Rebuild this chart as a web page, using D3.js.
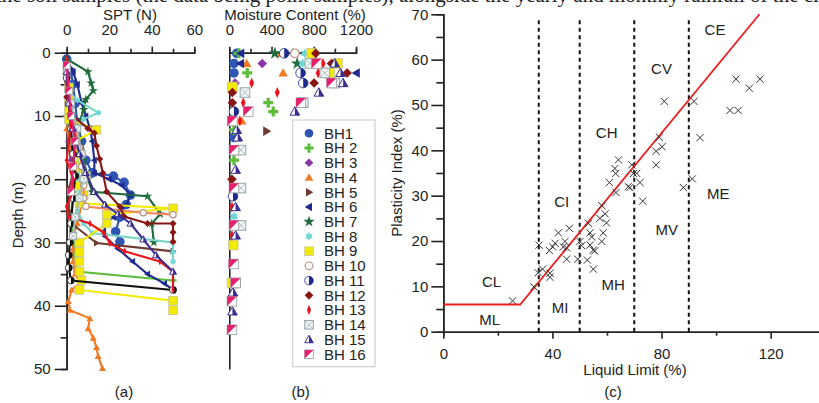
<!DOCTYPE html>
<html>
<head>
<meta charset="utf-8">
<title>SPT, moisture content and plasticity chart</title>
<style>
  body { margin: 0; background: #fff; }
  svg { display: block; font-family: 'Liberation Sans', Arial, sans-serif; }
  .axis path, .axis line { stroke: #222; stroke-width: 1.6; }
  .axis text { font-size: 15px; fill: #222; font-family: 'Liberation Sans', Arial, sans-serif; }
  .lab { font-size: 15px; fill: #222; }
</style>
</head>
<body>
<script src="https://d3js.org/d3.v7.min.js"></script>
<script>
// ---------- data ----------
var boreholes = ["BH1","BH 2","BH 3","BH 4","BH 5","BH 6","BH 7","BH 8",
                 "BH 9","BH 10","BH 11","BH 12","BH 13","BH 14","BH 15","BH 16"];

// SPT profiles: [N, depth m]
var sptBH1  = [[0,1],[2,3],[3,5],[4,8],[5,11],[7,14],[9,17],[12,19],[22,19.5],[27,20.5],[30,22.5],[28,24],[25,26],[23,28.3],[25,29.9]];
var sptBH2  = [[0,10],[1,14],[2,18],[3,22],[2,26],[3,29],[4,32],[4.7,34.6],[50,36]];
var sptBH3  = [[0,2],[1,5],[1,8],[2,11],[1,14],[2,17]];
var sptBH4  = [[0,12],[2,15],[4,18],[6,21],[7,24],[5,27],[3,29],[3,31],[3,33],[4,35],[6.2,36.4],[2.3,37.5],[0.8,39.3],[1.5,40.7],[10.9,42],[10.1,43.6],[12.5,45.1],[14,46.6],[14.8,48],[16.8,49.9]];
var sptBH5  = [[0,5],[1,10],[2,14],[4,18],[1,21.5],[1,25],[2.3,27],[14,30.1],[50,31.4]];
var sptBH6  = [[0,1],[3,3],[5,5],[7,8],[9,10],[11,12],[12,14],[13,17],[13,19],[20,20],[26,21],[30,22.5],[28,24],[22,26],[18,27],[18,29],[24,31],[31,33],[38,35],[46,36.5],[50,37.5]];
var sptBH7  = [[0,1],[10,3],[11.5,4.8],[12.5,6],[9,7.4],[8,9],[6,11],[6,14],[8,17],[10,20],[12,22],[38,22.7],[44,25.5],[40,27],[41,30]];
var sptBH8  = [[0,6],[5,7.5],[15,9.5],[8,10.5],[4,12],[5,15],[6,20],[5,25],[8,27],[12,28.5],[50,30],[50,31.5],[50,33]];
var sptBH9  = [[1,5.5],[1,7.5],[1,9],[1,10.5],[14,12.2],[4,14],[6,16],[4,18],[9,19.5],[5,21],[8,22.5],[6.2,23.8],[50,24.6],[18.8,25.6],[18.8,27],[6,30],[6,31.5],[6,33],[6,34.6],[7,36],[6,37.5],[50,39.2],[50,40.7]];
var sptBH10 = [[0,3],[2,8],[4,12],[6,15],[7,18],[8,21],[8,23],[9,24.3],[36,25.3],[50,25.6]];
var sptBH11 = [[0,4],[1,8],[2,12],[3,16],[4,19.5],[3,23],[2,27],[1.5,30],[1,32],[1,34],[2,36],[50,37.5]];
var sptBH12 = [[0,7],[3,10],[10,12],[13,12.7],[14,14.7],[15.5,16.8],[17,19],[18.8,22],[25,24.3],[27,25.9],[38,27],[50,27],[50,28.4],[50,29.9]];
var sptBH13 = [[0,1],[0,3],[0,5],[1,8],[2,11],[1,14],[0,17],[3,20],[3,22],[0,24.3],[0.8,25.9],[10.9,27],[17.2,28.4],[20.3,30.1],[27.3,31.4],[43.8,33],[50,34.6],[50,37.5]];
var sptBH14 = [[0,3],[2,8],[5,12],[7,16],[8,20],[6,23],[4,26],[3,29]];
var sptBH15 = [[0,3],[1,8],[3,12],[6,16],[9,19],[13,22],[18,24],[24,25.5],[30,27],[36,29.5],[42,32],[50,34.6]];
var sptBH16 = [[0,2],[1,6],[2,10],[4,14],[3,18],[2,22]];

// moisture content: [MC %, depth m]
var mcBH1  = [[70,0.1],[44,1.7],[44,3.2],[44,13.4]];
var mcBH2  = [[90,0.1],[170,3.2],[369,7.9],[416,9.3],[44,12.2],[44,17]];
var mcBH3  = [[312,1.7],[54,4.8]];
var mcBH4  = [[495,0.1],[164,1.7],[510,3.2],[117,10.8]];
var mcBH5  = [[353,12.4]];
var mcBH6  = [[110,0.1],[108,1.7],[1204,3.2]];
var mcBH7  = [[432,0.1],[643,1.7]];
var mcBH8  = [[715,0.1],[694,1.7],[44,25.9]];
var mcBH9  = [[779,0.1],[1024,1.7],[952,3.2],[29,5.4],[38,30.4],[25,36.4]];
var mcBH10 = [[621,0.1]];
var mcBH11 = [[520,0.1],[675,3.2],[700,4.8],[44,9.3],[35,22.7]];
var mcBH12 = [[819,0.1],[968,1.7],[1116,3.2],[803,4.8],[29,6.3],[29,7.9],[25,20]];
var mcBH13 = [[888,1.7],[841,3.2],[212,4.8],[454,6.3],[132,7.9],[100,10.8],[25,24.4],[25,28.9]];
var mcBH14 = [[763,1.7],[905,3.2],[1000,4.8],[148,6.3],[700,7.9],[110,15.4],[110,21.4],[110,27.3],[60,36.4]];
var mcBH15 = [[999,1.7],[1053,3.2],[1078,4.8],[848,6.3],[621,9.3],[70,12.2],[80,13.4],[60,18.5],[60,24.4],[60,28.9],[35,37.9],[30,40.9]];
var mcBH16 = [[826,1.7],[968,4.8],[678,7.9],[180,9.3],[29,10.8],[44,15.4],[44,21.4],[44,27.3],[40,33.4],[60,36.4],[25,39.3],[25,43.8]];

// plasticity chart samples: [liquid limit, plasticity index]
var plasticity = [[107.3,55.7],[116.1,55.7],[112.2,53.7],[105.1,48.8],[108.1,48.8],[81,50.8],[91.9,50.8],[94.1,42.8],
  [79.2,42.9],[80.2,40.8],[78,39.8],[78,36.8],[91.3,33.7],[88,31.8],[69.1,36.8],[64.2,37.9],[62.9,36],[63.2,34.9],
  [60.9,32.9],[63.3,30.7],[68.4,31.8],[69.7,34.9],[70.9,34.9],[72.1,32.9],[73.1,28.8],[67.8,32],[25.4,6.8],[33.2,9.9],
  [35.1,19.1],[36.4,13.8],[38.9,17.9],[40.1,18.7],[39.1,12.9],[39.1,12],[42.2,21.8],[46.2,22.8],[44.6,19.9],[44,18.7],
  [45.2,18.5],[45.2,16],[49.3,16],[50.1,19.9],[50.7,19],[52.8,15.8],[55,13.8],[53.2,23.9],[53.8,21.8],[54.4,20.9],
  [55,18],[53.8,19.1],[57.4,25],[58.1,27.8],[59.3,26],[58.6,21.8],[58.1,19.9],[59.8,24],[55.5,17.8],[41,19.5],[34.8,13]];
var aLine = [[0,6],[28.2,6],[115.9,70]];
var llBoundaries = [35, 50, 70, 90];
var zoneNames = ["CL","ML","CI","MI","CH","MH","CV","MV","CE","ME"];
var zoneAt = [[17.7,11],[17,2.6],[43.4,28.7],[42.8,5.3],[59.9,43.9],[62.3,10.3],[80,57.9],[81.9,22.6],[99.6,66.7],[100.8,30.4]];

// ---------- styles ----------
var sptData = [sptBH1,sptBH2,sptBH3,sptBH4,sptBH5,sptBH6,sptBH7,sptBH8,sptBH9,sptBH10,sptBH11,sptBH12,sptBH13,sptBH14,sptBH15,sptBH16];
var mcData = [mcBH1,mcBH2,mcBH3,mcBH4,mcBH5,mcBH6,mcBH7,mcBH8,mcBH9,mcBH10,mcBH11,mcBH12,mcBH13,mcBH14,mcBH15,mcBH16];
var colors = ["#2f55b4","#5bbd3a","#8b34a6","#f07a22","#6e3b30","#1d2a8e","#1e6b3c","#6fd6d8",
              "#f4ea00","#b89484","#1d2a8e","#8a1515","#e8161c","#a9b9b9","#3a2d92","#e81e6e"];
var lineColors = ["#2f55b4","#5bbd3a","#8b34a6","#f07a22","#6e3b30","#1d2a8e","#1e6b3c","#79d6c4",
              "#f4ea00","#f4845f","#111111","#8a1515","#e8161c","#a9b9b9","#3a2d92","#e81e6e"];
var shapes = ["circle","plus","diamond","triUp","triRight","triLeft","star","star6",
              "square","open","halfCircle","diamond","thinDiamond","boxX","halfTri","halfSquare"];

var W = 819, H = 403;
var svg = d3.select("body").append("svg").attr("width", W).attr("height", H);

function poly(g, pts, fill, stroke, sw) {
  return g.append("path").attr("d", "M" + pts.map(function(p){ return p.join(","); }).join("L") + "Z")
    .attr("fill", fill).attr("stroke", stroke || "none").attr("stroke-width", sw || 0);
}

function marker(g, kind, col, s) {
  switch (kind) {
    case "circle": g.append("circle").attr("r", s).attr("fill", col); break;
    case "plus":
      g.append("path").attr("d", "M" + (-s) + ",0H" + s + "M0," + (-s) + "V" + s)
        .attr("stroke", col).attr("stroke-width", s * 0.65); break;
    case "diamond": poly(g, [[0,-s],[s,0],[0,s],[-s,0]], col); break;
    case "triUp": poly(g, [[0,-s],[s,s*0.75],[-s,s*0.75]], col); break;
    case "triRight": poly(g, [[s,0],[-s*0.7,-s],[-s*0.7,s]], col); break;
    case "triLeft": poly(g, [[-s,0],[s*0.7,-s],[s*0.7,s]], col); break;
    case "star": g.append("path").attr("d", d3.symbol(d3.symbolStar, s * s * 2.2)()).attr("fill", col); break;
    case "star6":
      poly(g, [[0,-s],[s*0.87,s*0.5],[-s*0.87,s*0.5]], col);
      poly(g, [[0,s],[s*0.87,-s*0.5],[-s*0.87,-s*0.5]], col); break;
    case "square": g.append("rect").attr("x", -s).attr("y", -s).attr("width", 2*s).attr("height", 2*s)
        .attr("fill", col).attr("stroke", "#c8c4a0").attr("stroke-width", 0.8); break;
    case "open": g.append("circle").attr("r", s*0.9).attr("fill", "#fff").attr("stroke", col).attr("stroke-width", 1.2); break;
    case "halfCircle":
      g.append("circle").attr("r", s).attr("fill", "#fff").attr("stroke", col).attr("stroke-width", 0.8);
      g.append("path").attr("d", "M0," + (-s) + "A" + s + "," + s + " 0 0 1 0," + s + "Z").attr("fill", col); break;
    case "thinDiamond": poly(g, [[0,-s*1.15],[s*0.5,0],[0,s*1.15],[-s*0.5,0]], col); break;
    case "boxX":
      g.append("rect").attr("x", -s).attr("y", -s).attr("width", 2*s).attr("height", 2*s)
        .attr("fill", "#f3f7f7").attr("stroke", "#97a6a6").attr("stroke-width", 1);
      g.append("path").attr("d", "M" + (-s) + "," + (-s) + "L" + s + "," + s + "M" + s + "," + (-s) + "L" + (-s) + "," + s)
        .attr("stroke", "#9fb0b0").attr("stroke-width", 0.8); break;
    case "halfTri":
      poly(g, [[0,-s],[s,s*0.75],[-s,s*0.75]], "#fff", col, 1);
      poly(g, [[0,-s],[s,s*0.75],[0,s*0.75]], col); break;
    case "halfSquare":
      g.append("rect").attr("x", -s).attr("y", -s).attr("width", 2*s).attr("height", 2*s)
        .attr("fill", "#fff").attr("stroke", "#999").attr("stroke-width", 0.8);
      poly(g, [[-s,-s],[s,-s],[-s,s]], col); break;
  }
}

// cropped body text of the page the figure was cut from (only its lower edge shows)
svg.append("text").attr("x", -4).attr("y", 1.5)
  .attr("font-family", "'Liberation Serif', 'DejaVu Serif', serif").attr("font-size", 21).attr("fill", "#222")
  .text("the soil samples (the data being point samples), alongside the yearly and monthly rainfall of the city were");

// ---------- (a) SPT ----------
var xSpt = d3.scaleLinear().domain([0, 60]).range([66.7, 194.3]);
var yDepth = d3.scaleLinear().domain([0, 50]).range([52.7, 369]);

var gA = svg.append("g");
gA.append("g").attr("class", "axis").attr("transform", "translate(0," + yDepth(0) + ")")
  .call(d3.axisTop(xSpt).tickValues([10, 30, 50]).tickSize(4).tickFormat(""));
gA.append("g").attr("class", "axis").attr("transform", "translate(0," + yDepth(0) + ")")
  .call(d3.axisTop(xSpt).tickValues([0, 20, 40, 60]).tickSize(6).tickSizeOuter(0).tickPadding(12));
gA.append("g").attr("class", "axis").attr("transform", "translate(" + xSpt(0) + ",0)")
  .call(d3.axisLeft(yDepth).tickValues([5, 15, 25, 35, 45]).tickSize(6).tickFormat(""));
gA.append("g").attr("class", "axis").attr("transform", "translate(" + xSpt(0) + ",0)")
  .call(d3.axisLeft(yDepth).tickValues([0, 10, 20, 30, 40, 50]).tickSize(12).tickSizeOuter(0).tickPadding(4));

var sptLine = d3.line().x(function(d){ return xSpt(d[0]); }).y(function(d){ return yDepth(d[1]); });
sptData.forEach(function(series, i) {
  var g = gA.append("g");
  g.append("path").attr("d", sptLine(series)).attr("fill", "none")
    .attr("stroke", lineColors[i]).attr("stroke-width", 2.1);
  series.forEach(function(p) {
    var m = g.append("g").attr("transform", "translate(" + xSpt(p[0]) + "," + yDepth(p[1]) + ")");
    var s = shapes[i] === "circle" ? 4.8 : (shapes[i] === "square" ? 4.3 : 3.5);
    marker(m, shapes[i], i === 10 ? "#111" : colors[i], s);
  });
});

svg.append("text").attr("class", "lab").attr("x", 130).attr("y", 20).attr("text-anchor", "middle").text("SPT (N)");
svg.append("text").attr("class", "lab").attr("transform", "translate(23,215) rotate(-90)")
  .attr("text-anchor", "middle").text("Depth (m)");
svg.append("text").attr("class", "lab").attr("x", 124).attr("y", 397).attr("text-anchor", "middle").text("(a)");

// ---------- (b) moisture content ----------
var xMc = d3.scaleLinear().domain([0, 1200]).range([229.3, 356]);
var gB = svg.append("g");
gB.append("g").attr("class", "axis").attr("transform", "translate(0," + yDepth(0) + ")")
  .call(d3.axisTop(xMc).tickValues([200, 600, 1000]).tickSize(4).tickFormat(""));
gB.append("g").attr("class", "axis").attr("transform", "translate(0," + yDepth(0) + ")")
  .call(d3.axisTop(xMc).tickValues([0, 400, 800, 1200]).tickFormat(d3.format("d"))
    .tickSize(6).tickSizeOuter(0).tickPadding(12));
gB.append("g").attr("class", "axis").attr("transform", "translate(" + xMc(0) + ",0)")
  .call(d3.axisLeft(yDepth).tickValues([]).tickSizeOuter(0));

mcData.forEach(function(series, i) {
  series.forEach(function(p) {
    var m = gB.append("g").attr("transform", "translate(" + xMc(p[0]) + "," + yDepth(p[1]) + ")");
    marker(m, shapes[i], colors[i], shapes[i] === "plus" ? 5 : 4.8);
  });
});

// legend
var leg = svg.append("g");
leg.append("rect").attr("x", 292.7).attr("y", 120).attr("width", 82.3).attr("height", 246.7)
  .attr("fill", "#fff").attr("stroke", "#cfcfcf").attr("stroke-width", 1.2);
boreholes.forEach(function(name, i) {
  var y = 133.3 + i * 14.73;
  var m = leg.append("g").attr("transform", "translate(309," + y + ")");
  marker(m, shapes[i], colors[i], shapes[i] === "plus" ? 4.6 : 4.3);
  leg.append("text").attr("class", "lab").attr("x", 324).attr("y", y + 5.3).text(name);
});

svg.append("text").attr("class", "lab").attr("x", 295).attr("y", 20).attr("text-anchor", "middle").text("Moisture Content (%)");
svg.append("text").attr("class", "lab").attr("x", 300.7).attr("y", 397).attr("text-anchor", "middle").text("(b)");

// ---------- (c) plasticity chart ----------
var xLL = d3.scaleLinear().domain([0, 140]).range([443.3, 825.2]);
var yPI = d3.scaleLinear().domain([0, 70]).range([331.7, 14.3]);
var gC = svg.append("g");

gC.append("g").attr("class", "axis").attr("transform", "translate(0," + yPI(0) + ")")
  .call(d3.axisBottom(xLL).tickValues([20, 60, 100, 140]).tickSize(4).tickFormat(""));
gC.append("g").attr("class", "axis").attr("transform", "translate(0," + yPI(0) + ")")
  .call(d3.axisBottom(xLL).tickValues([0, 40, 80, 120]).tickSize(7).tickSizeOuter(0).tickPadding(10));
gC.append("g").attr("class", "axis").attr("transform", "translate(" + xLL(0) + ",0)")
  .call(d3.axisLeft(yPI).tickValues(d3.range(5, 70, 10)).tickSize(7).tickFormat(""));
gC.append("g").attr("class", "axis").attr("transform", "translate(" + xLL(0) + ",0)")
  .call(d3.axisLeft(yPI).tickValues(d3.range(0, 71, 10)).tickSize(12).tickSizeOuter(0).tickPadding(3));

gC.selectAll(".bound").data(llBoundaries).enter().append("line")
  .attr("x1", function(d){ return xLL(d); }).attr("x2", function(d){ return xLL(d); })
  .attr("y1", yPI(0)).attr("y2", yPI(68.8))
  .attr("stroke", "#111").attr("stroke-width", 2).attr("stroke-dasharray", "4,3.5");

gC.append("path").attr("d", d3.line().x(function(d){ return xLL(d[0]); }).y(function(d){ return yPI(d[1]); })(aLine))
  .attr("fill", "none").attr("stroke", "#ee1c1c").attr("stroke-width", 1.8);

gC.selectAll(".pt").data(plasticity).enter().append("path")
  .attr("transform", function(d){ return "translate(" + xLL(d[0]) + "," + yPI(d[1]) + ")"; })
  .attr("d", "M-3.6,-3.6L3.6,3.6M3.6,-3.6L-3.6,3.6")
  .attr("stroke", "#333").attr("stroke-width", 1);

gC.selectAll(".zone").data(zoneNames).enter().append("text").attr("class", "lab")
  .attr("x", function(d, i){ return xLL(zoneAt[i][0]); })
  .attr("y", function(d, i){ return yPI(zoneAt[i][1]) + 5.3; })
  .attr("text-anchor", "middle").text(function(d){ return d; });

svg.append("text").attr("class", "lab").attr("x", 635).attr("y", 375).attr("text-anchor", "middle").text("Liquid Limit (%)");
svg.append("text").attr("class", "lab").attr("transform", "translate(402,173) rotate(-90)")
  .attr("text-anchor", "middle").text("Plasticity Index (%)");
svg.append("text").attr("class", "lab").attr("x", 613).attr("y", 397).attr("text-anchor", "middle").text("(c)");
</script>
</body>
</html>
